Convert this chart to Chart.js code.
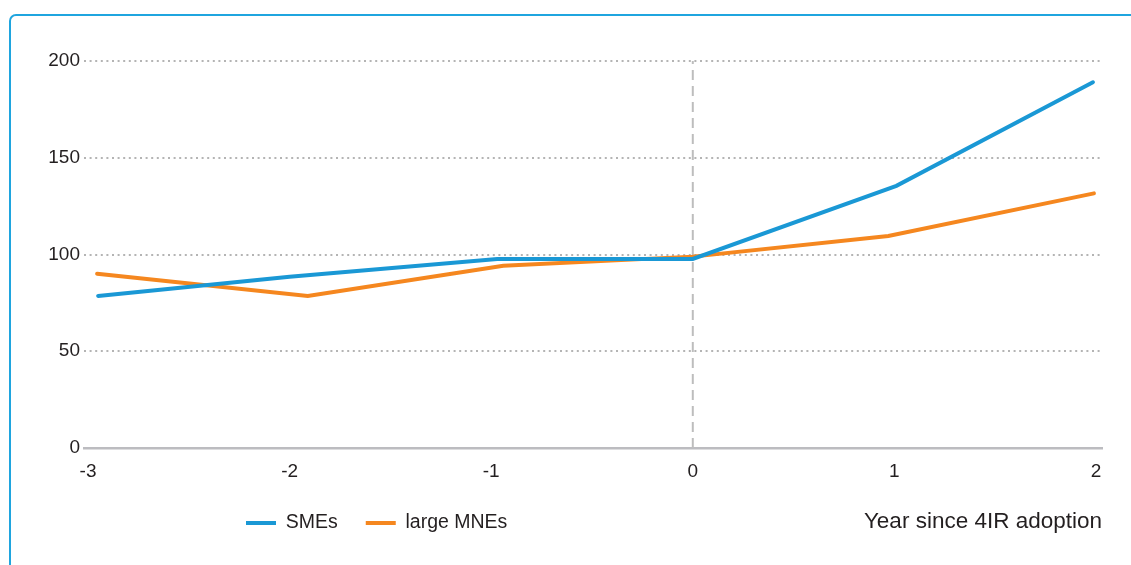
<!DOCTYPE html>
<html>
<head>
<meta charset="utf-8">
<script src="https://cdn.jsdelivr.net/npm/chart.js@4"></script>
<style>
  html, body { margin: 0; padding: 0; background: #fff; overflow: hidden; }
  .frame {
    position: absolute; left: 9px; top: 14px; width: 1200px; height: 600px;
    border: 2px solid #1fa5df; border-top-left-radius: 7px; box-sizing: border-box;
  }
  #chart { position: absolute; left: 0; top: 0; }
</style>
</head>
<body>
<div class="frame"></div>
<canvas id="chart" width="1131" height="565"></canvas>
<script>
  // values (index, year 0 ~ 100)
  const xTicks = [-3, -2, -1, 0, 1, 2];
  const xTickLabels = ["-3", "-2", "-1", "0", "1", "2"];
  const smeX = [-2.95, -2, -0.97, 0, 1.01, 1.985];
  const smeY = [78.6, 88.5, 97.7, 97.7, 135.5, 189];
  const mneX = [-2.955, -1.91, -0.94, 0, 0.97, 1.99];
  const mneY = [90.1, 78.6, 94.2, 98.9, 109.6, 131.6];
  const adoptionX = [0, 0];
  const adoptionY = [0, 200];

  Chart.defaults.font.family = "'Liberation Sans', Arial, sans-serif";
  Chart.defaults.color = "#231f20";

  const pts = (xs, ys) => xs.map((x, i) => ({ x, y: ys[i] }));

  // legend sits on the same row as the axis title
  const LEGEND_X = 246;
  const LEGEND_Y = 523;
  const placeLegend = {
    id: "placeLegend",
    afterLayout(chart) {
      const lg = chart.legend;
      const pad = lg.options.labels.padding;
      const size = lg.options.labels.font.size;
      lg.left = LEGEND_X - pad;
      lg.right = 1131;
      lg.top = LEGEND_Y - pad - size / 2;
      lg.bottom = lg.top + size + pad * 2;
      lg.width = lg.right - lg.left;
      lg.height = lg.bottom - lg.top;
    }
  };

  new Chart(document.getElementById("chart"), {
    type: "line",
    data: {
      datasets: [
        {
          label: "SMEs",
          data: pts(smeX, smeY),
          borderColor: "#1a98d5",
          backgroundColor: "#1a98d5",
          borderWidth: 4,
          borderCapStyle: "round",
          pointRadius: 0,
          pointStyle: "line",
          order: 0
        },
        {
          label: "large MNEs",
          data: pts(mneX, mneY),
          borderColor: "#f5871f",
          backgroundColor: "#f5871f",
          borderWidth: 4,
          borderCapStyle: "round",
          pointRadius: 0,
          pointStyle: "line",
          order: 1
        },
        {
          label: "adoption",
          data: pts(adoptionX, adoptionY),
          borderColor: "#bdbdbd",
          borderWidth: 2,
          borderDash: [10, 6],
          pointRadius: 0,
          order: 2
        }
      ]
    },
    options: {
      responsive: false,
      animation: false,
      devicePixelRatio: 1,
      layout: { padding: { top: 61, right: 29, left: 0, bottom: 0 } },
      plugins: {
        tooltip: { enabled: false },
        legend: {
          position: "bottom",
          maxHeight: 1,
          align: "start",
          labels: {
            filter: (item) => item.text !== "adoption",
            usePointStyle: true,
            pointStyle: "line",
            pointStyleWidth: 30,
            padding: 28,
            color: "#231f20",
            font: { size: 19.5 }
          }
        }
      },
      scales: {
        x: {
          type: "linear",
          min: -3.02,
          max: 2.03,
          afterFit: (scale) => { scale.height = 116; },
          afterBuildTicks: (scale) => { scale.ticks = xTicks.map((v) => ({ value: v })); },
          grid: { display: false, drawTicks: false },
          border: { display: true, color: "#bcbcc0", width: 2.5 },
          ticks: {
            padding: 12,
            font: { size: 19 },
            color: "#231f20",
            maxRotation: 0,
            callback: (v) => xTickLabels[xTicks.indexOf(v)]
          },
          title: {
            display: true,
            text: "Year since 4IR adoption",
            align: "end",
            color: "#231f20",
            font: { size: 22.5 },
            padding: { top: 0, bottom: 29 }
          }
        },
        y: {
          min: 0,
          max: 200,
          afterFit: (scale) => { scale.width = 84; },
          grid: {
            drawTicks: false,
            color: "#b4b4b4",
            lineWidth: 2
          },
          border: { display: false, dash: [2, 3.6] },
          ticks: {
            stepSize: 50,
            padding: 4,
            font: { size: 19 },
            color: "#231f20"
          }
        }
      }
    },
    plugins: [placeLegend]
  });
</script>
</body>
</html>
